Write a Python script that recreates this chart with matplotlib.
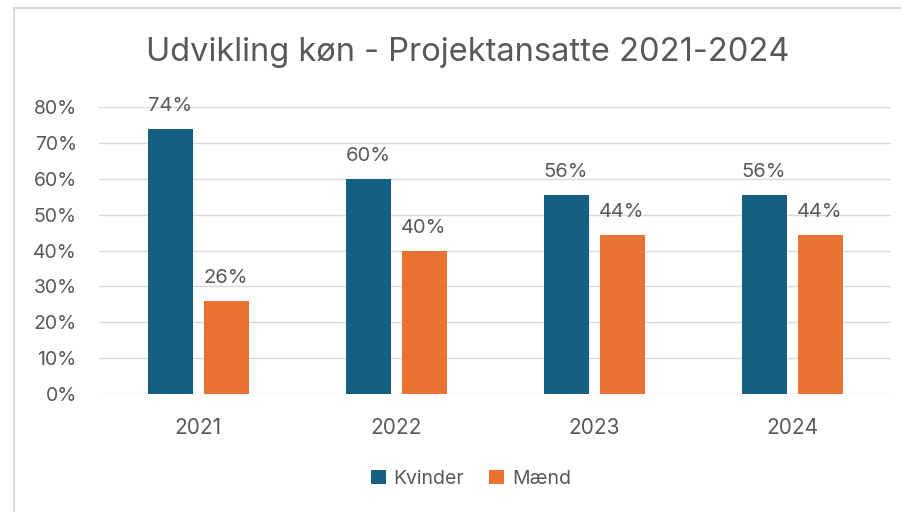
import matplotlib
matplotlib.use("Agg")
import matplotlib.pyplot as plt
from matplotlib.lines import Line2D
import numpy as np

plt.rcParams['font.family'] = ['Inter', 'DejaVu Sans']

# data
years = ['2021', '2022', '2023', '2024']
kvinder = [74.0, 60.0, 55.6, 55.6]
maend = [26.0, 40.0, 44.4, 44.4]
yticks = [0, 10, 20, 30, 40, 50, 60, 70, 80]

blue = '#156082'
orange = '#E97132'
grey_text = '#595959'
grid_col = '#D9D9D9'

fig = plt.figure(figsize=(9.01, 5.12), dpi=100)
ax = fig.add_axes([99 / 901, 1 - 394 / 512, 792 / 901, (394 - 107) / 512])

x = np.arange(len(years))
w = 45 / 198
off = (45 + 11) / 198 / 2

b1 = ax.bar(x - off, kvinder, w, color=blue, label='Kvinder', zorder=3)
b2 = ax.bar(x + off, maend, w, color=orange, label='Mænd', zorder=3)

# data labels
for bars, vals in ((b1, kvinder), (b2, maend)):
    for bar, v in zip(bars, vals):
        ax.annotate(f'{v:.0f}%', (bar.get_x() + bar.get_width() / 2, v),
                    xytext=(0, 12.5), textcoords='offset points',
                    ha='center', va='baseline', fontsize=14.5, color=grey_text)

ax.set_xlim(-0.5, len(years) - 0.5)
ax.set_ylim(0, 80)
ax.set_yticks(yticks)
ax.set_yticklabels([f'{t}%' for t in yticks])
ax.set_xticks(x)
ax.set_xticklabels(years)
ax.tick_params(axis='y', length=0, pad=16, labelsize=14, labelcolor=grey_text)
ax.tick_params(axis='x', length=0, pad=17, labelsize=15, labelcolor=grey_text)
ax.grid(axis='y', color=grid_col, linewidth=1.0, zorder=0)
ax.set_axisbelow(True)
for s in ax.spines.values():
    s.set_visible(False)

fig.text(468 / 901, 1 - 52 / 512, 'Udvikling køn - Projektansatte 2021-2024',
         ha='center', va='center', fontsize=23.5, color=grey_text)

fig.legend(handles=[b1, b2], loc='center', bbox_to_anchor=(471 / 901, 1 - 479 / 512),
           ncol=2, frameon=False, fontsize=14, labelcolor=grey_text,
           handlelength=0.75, handleheight=0.75, handletextpad=0.4, columnspacing=1.3)

# chart area border (cropped screenshot: only left and top edges visible)
fig.add_artist(Line2D([14 / 901, 14 / 901], [0, 1 - 8 / 512], transform=fig.transFigure,
                      color=grid_col, linewidth=1.5))
fig.add_artist(Line2D([14 / 901, 1], [1 - 8 / 512, 1 - 8 / 512], transform=fig.transFigure,
                      color=grid_col, linewidth=1.5))

fig.savefig('out.png', dpi=100)
